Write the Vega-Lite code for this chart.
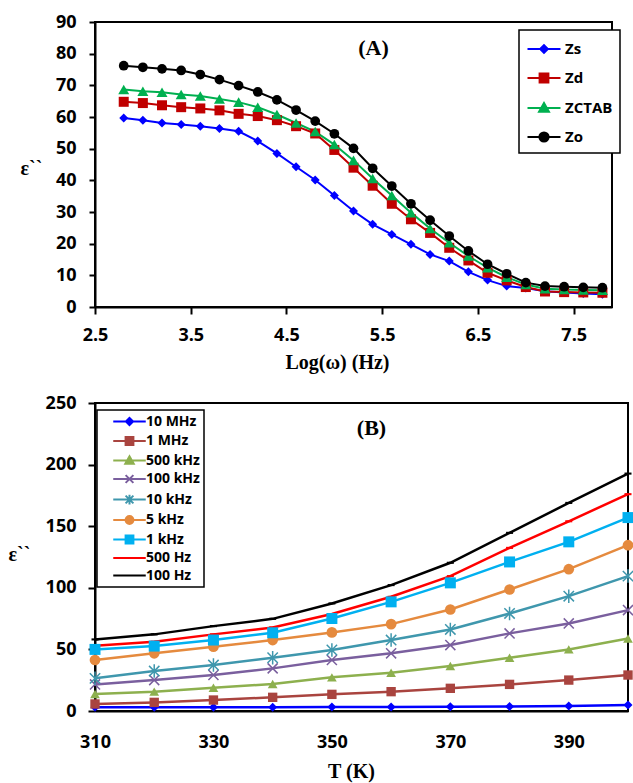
{
  "$schema": "https://vega.github.io/schema/vega-lite/v6.json",
  "background": "white",
  "padding": {"left": 7, "top": 12, "right": 4, "bottom": 2},
  "spacing": 20,
  "config": {
    "view": {"stroke": "black", "strokeWidth": 2},
    "axis": {
      "grid": false,
      "labelFlush": false,
      "labelFont": "Open Sans",
      "labelFontWeight": "bold",
      "labelFontSize": 18,
      "labelColor": "black",
      "domainColor": "black",
      "domainWidth": 2,
      "tickColor": "black",
      "tickWidth": 2,
      "titleFont": "Liberation Serif",
      "titleFontWeight": "bold",
      "titleFontSize": 20,
      "titleColor": "black"
    },
    "title": {"font": "Liberation Serif", "fontWeight": "bold", "fontSize": 22, "color": "black"}
  },
  "datasets": {
    "freq": [
      {"logw": 2.8, "sample": "Zs", "eps": 59.7}, {"logw": 3.0, "sample": "Zs", "eps": 59.0}, {"logw": 3.2, "sample": "Zs", "eps": 58.1}, {"logw": 3.4, "sample": "Zs", "eps": 57.6}, {"logw": 3.6, "sample": "Zs", "eps": 57.1}, {"logw": 3.8, "sample": "Zs", "eps": 56.4}, {"logw": 4.0, "sample": "Zs", "eps": 55.5}, {"logw": 4.2, "sample": "Zs", "eps": 52.4}, {"logw": 4.4, "sample": "Zs", "eps": 48.5}, {"logw": 4.6, "sample": "Zs", "eps": 44.3}, {"logw": 4.8, "sample": "Zs", "eps": 40.1}, {"logw": 5.0, "sample": "Zs", "eps": 35.2}, {"logw": 5.2, "sample": "Zs", "eps": 30.3}, {"logw": 5.4, "sample": "Zs", "eps": 26.1}, {"logw": 5.6, "sample": "Zs", "eps": 22.9}, {"logw": 5.8, "sample": "Zs", "eps": 19.8}, {"logw": 6.0, "sample": "Zs", "eps": 16.6}, {"logw": 6.2, "sample": "Zs", "eps": 14.5}, {"logw": 6.4, "sample": "Zs", "eps": 11.1}, {"logw": 6.6, "sample": "Zs", "eps": 8.5}, {"logw": 6.8, "sample": "Zs", "eps": 6.6}, {"logw": 7.0, "sample": "Zs", "eps": 6.0}, {"logw": 7.2, "sample": "Zs", "eps": 5.0}, {"logw": 7.4, "sample": "Zs", "eps": 4.6}, {"logw": 7.6, "sample": "Zs", "eps": 4.3}, {"logw": 7.8, "sample": "Zs", "eps": 4.0},
      {"logw": 2.8, "sample": "Zd", "eps": 64.8}, {"logw": 3.0, "sample": "Zd", "eps": 64.4}, {"logw": 3.2, "sample": "Zd", "eps": 63.7}, {"logw": 3.4, "sample": "Zd", "eps": 63.1}, {"logw": 3.6, "sample": "Zd", "eps": 62.7}, {"logw": 3.8, "sample": "Zd", "eps": 62.1}, {"logw": 4.0, "sample": "Zd", "eps": 61.0}, {"logw": 4.2, "sample": "Zd", "eps": 60.3}, {"logw": 4.4, "sample": "Zd", "eps": 59.0}, {"logw": 4.6, "sample": "Zd", "eps": 57.1}, {"logw": 4.8, "sample": "Zd", "eps": 54.8}, {"logw": 5.0, "sample": "Zd", "eps": 49.6}, {"logw": 5.2, "sample": "Zd", "eps": 44.0}, {"logw": 5.4, "sample": "Zd", "eps": 38.3}, {"logw": 5.6, "sample": "Zd", "eps": 32.6}, {"logw": 5.8, "sample": "Zd", "eps": 27.7}, {"logw": 6.0, "sample": "Zd", "eps": 23.4}, {"logw": 6.2, "sample": "Zd", "eps": 18.7}, {"logw": 6.4, "sample": "Zd", "eps": 14.7}, {"logw": 6.6, "sample": "Zd", "eps": 10.8}, {"logw": 6.8, "sample": "Zd", "eps": 8.4}, {"logw": 7.0, "sample": "Zd", "eps": 6.3}, {"logw": 7.2, "sample": "Zd", "eps": 4.9}, {"logw": 7.4, "sample": "Zd", "eps": 4.7}, {"logw": 7.6, "sample": "Zd", "eps": 4.6}, {"logw": 7.8, "sample": "Zd", "eps": 4.5},
      {"logw": 2.8, "sample": "ZCTAB", "eps": 68.7}, {"logw": 3.0, "sample": "ZCTAB", "eps": 68.1}, {"logw": 3.2, "sample": "ZCTAB", "eps": 67.8}, {"logw": 3.4, "sample": "ZCTAB", "eps": 67.1}, {"logw": 3.6, "sample": "ZCTAB", "eps": 66.6}, {"logw": 3.8, "sample": "ZCTAB", "eps": 65.7}, {"logw": 4.0, "sample": "ZCTAB", "eps": 64.7}, {"logw": 4.2, "sample": "ZCTAB", "eps": 63.1}, {"logw": 4.4, "sample": "ZCTAB", "eps": 60.8}, {"logw": 4.6, "sample": "ZCTAB", "eps": 58.1}, {"logw": 4.8, "sample": "ZCTAB", "eps": 55.4}, {"logw": 5.0, "sample": "ZCTAB", "eps": 51.3}, {"logw": 5.2, "sample": "ZCTAB", "eps": 46.3}, {"logw": 5.4, "sample": "ZCTAB", "eps": 40.6}, {"logw": 5.6, "sample": "ZCTAB", "eps": 35.2}, {"logw": 5.8, "sample": "ZCTAB", "eps": 29.8}, {"logw": 6.0, "sample": "ZCTAB", "eps": 24.8}, {"logw": 6.2, "sample": "ZCTAB", "eps": 20.3}, {"logw": 6.4, "sample": "ZCTAB", "eps": 16.1}, {"logw": 6.6, "sample": "ZCTAB", "eps": 12.4}, {"logw": 6.8, "sample": "ZCTAB", "eps": 9.4}, {"logw": 7.0, "sample": "ZCTAB", "eps": 7.1}, {"logw": 7.2, "sample": "ZCTAB", "eps": 5.8}, {"logw": 7.4, "sample": "ZCTAB", "eps": 5.5}, {"logw": 7.6, "sample": "ZCTAB", "eps": 5.4}, {"logw": 7.8, "sample": "ZCTAB", "eps": 5.3},
      {"logw": 2.8, "sample": "Zo", "eps": 76.2}, {"logw": 3.0, "sample": "Zo", "eps": 75.7}, {"logw": 3.2, "sample": "Zo", "eps": 75.2}, {"logw": 3.4, "sample": "Zo", "eps": 74.7}, {"logw": 3.6, "sample": "Zo", "eps": 73.4}, {"logw": 3.8, "sample": "Zo", "eps": 71.8}, {"logw": 4.0, "sample": "Zo", "eps": 69.9}, {"logw": 4.2, "sample": "Zo", "eps": 67.9}, {"logw": 4.4, "sample": "Zo", "eps": 65.4}, {"logw": 4.6, "sample": "Zo", "eps": 62.2}, {"logw": 4.8, "sample": "Zo", "eps": 58.7}, {"logw": 5.0, "sample": "Zo", "eps": 54.7}, {"logw": 5.2, "sample": "Zo", "eps": 50.1}, {"logw": 5.4, "sample": "Zo", "eps": 43.8}, {"logw": 5.6, "sample": "Zo", "eps": 38.2}, {"logw": 5.8, "sample": "Zo", "eps": 32.6}, {"logw": 6.0, "sample": "Zo", "eps": 27.4}, {"logw": 6.2, "sample": "Zo", "eps": 22.4}, {"logw": 6.4, "sample": "Zo", "eps": 17.7}, {"logw": 6.6, "sample": "Zo", "eps": 13.5}, {"logw": 6.8, "sample": "Zo", "eps": 10.5}, {"logw": 7.0, "sample": "Zo", "eps": 7.7}, {"logw": 7.2, "sample": "Zo", "eps": 6.6}, {"logw": 7.4, "sample": "Zo", "eps": 6.4}, {"logw": 7.6, "sample": "Zo", "eps": 6.2}, {"logw": 7.8, "sample": "Zo", "eps": 6.1}
    ],
    "temp": [
      {"T": 310, "f": "10 MHz", "e": 3.0}, {"T": 320, "f": "10 MHz", "e": 3.0}, {"T": 330, "f": "10 MHz", "e": 3.0}, {"T": 340, "f": "10 MHz", "e": 3.0}, {"T": 350, "f": "10 MHz", "e": 3.2}, {"T": 360, "f": "10 MHz", "e": 3.3}, {"T": 370, "f": "10 MHz", "e": 3.5}, {"T": 380, "f": "10 MHz", "e": 3.7}, {"T": 390, "f": "10 MHz", "e": 4.0}, {"T": 400, "f": "10 MHz", "e": 4.8},
      {"T": 310, "f": "1 MHz", "e": 5.7}, {"T": 320, "f": "1 MHz", "e": 7.0}, {"T": 330, "f": "1 MHz", "e": 8.9}, {"T": 340, "f": "1 MHz", "e": 11.1}, {"T": 350, "f": "1 MHz", "e": 13.5}, {"T": 360, "f": "1 MHz", "e": 15.7}, {"T": 370, "f": "1 MHz", "e": 18.4}, {"T": 380, "f": "1 MHz", "e": 21.6}, {"T": 390, "f": "1 MHz", "e": 25.1}, {"T": 400, "f": "1 MHz", "e": 29.2},
      {"T": 310, "f": "500 kHz", "e": 13.8}, {"T": 320, "f": "500 kHz", "e": 15.7}, {"T": 330, "f": "500 kHz", "e": 18.9}, {"T": 340, "f": "500 kHz", "e": 21.9}, {"T": 350, "f": "500 kHz", "e": 27.3}, {"T": 360, "f": "500 kHz", "e": 31.1}, {"T": 370, "f": "500 kHz", "e": 36.5}, {"T": 380, "f": "500 kHz", "e": 43.2}, {"T": 390, "f": "500 kHz", "e": 50.0}, {"T": 400, "f": "500 kHz", "e": 58.9},
      {"T": 310, "f": "100 kHz", "e": 21.6}, {"T": 320, "f": "100 kHz", "e": 25.1}, {"T": 330, "f": "100 kHz", "e": 29.2}, {"T": 340, "f": "100 kHz", "e": 34.6}, {"T": 350, "f": "100 kHz", "e": 41.4}, {"T": 360, "f": "100 kHz", "e": 46.8}, {"T": 370, "f": "100 kHz", "e": 53.5}, {"T": 380, "f": "100 kHz", "e": 63.0}, {"T": 390, "f": "100 kHz", "e": 71.1}, {"T": 400, "f": "100 kHz", "e": 81.9},
      {"T": 310, "f": "10 kHz", "e": 26.5}, {"T": 320, "f": "10 kHz", "e": 32.4}, {"T": 330, "f": "10 kHz", "e": 37.3}, {"T": 340, "f": "10 kHz", "e": 43.2}, {"T": 350, "f": "10 kHz", "e": 49.5}, {"T": 360, "f": "10 kHz", "e": 57.6}, {"T": 370, "f": "10 kHz", "e": 66.2}, {"T": 380, "f": "10 kHz", "e": 79.2}, {"T": 390, "f": "10 kHz", "e": 93.2}, {"T": 400, "f": "10 kHz", "e": 109.5},
      {"T": 310, "f": "5 kHz", "e": 41.4}, {"T": 320, "f": "5 kHz", "e": 46.8}, {"T": 330, "f": "5 kHz", "e": 52.2}, {"T": 340, "f": "5 kHz", "e": 57.6}, {"T": 350, "f": "5 kHz", "e": 63.8}, {"T": 360, "f": "5 kHz", "e": 70.5}, {"T": 370, "f": "5 kHz", "e": 82.4}, {"T": 380, "f": "5 kHz", "e": 98.6}, {"T": 390, "f": "5 kHz", "e": 115.1}, {"T": 400, "f": "5 kHz", "e": 134.6},
      {"T": 310, "f": "1 kHz", "e": 50.0}, {"T": 320, "f": "1 kHz", "e": 52.7}, {"T": 330, "f": "1 kHz", "e": 57.6}, {"T": 340, "f": "1 kHz", "e": 63.5}, {"T": 350, "f": "1 kHz", "e": 75.1}, {"T": 360, "f": "1 kHz", "e": 88.6}, {"T": 370, "f": "1 kHz", "e": 104.0}, {"T": 380, "f": "1 kHz", "e": 121.0}, {"T": 390, "f": "1 kHz", "e": 137.3}, {"T": 400, "f": "1 kHz", "e": 157.0},
      {"T": 310, "f": "500 Hz", "e": 53.0}, {"T": 320, "f": "500 Hz", "e": 56.2}, {"T": 330, "f": "500 Hz", "e": 62.2}, {"T": 340, "f": "500 Hz", "e": 67.8}, {"T": 350, "f": "500 Hz", "e": 78.7}, {"T": 360, "f": "500 Hz", "e": 92.7}, {"T": 370, "f": "500 Hz", "e": 109.5}, {"T": 380, "f": "500 Hz", "e": 132.4}, {"T": 390, "f": "500 Hz", "e": 154.0}, {"T": 400, "f": "500 Hz", "e": 176.0},
      {"T": 310, "f": "100 Hz", "e": 58.1}, {"T": 320, "f": "100 Hz", "e": 62.2}, {"T": 330, "f": "100 Hz", "e": 68.9}, {"T": 340, "f": "100 Hz", "e": 74.8}, {"T": 350, "f": "100 Hz", "e": 87.3}, {"T": 360, "f": "100 Hz", "e": 102.2}, {"T": 370, "f": "100 Hz", "e": 120.3}, {"T": 380, "f": "100 Hz", "e": 144.6}, {"T": 390, "f": "100 Hz", "e": 168.9}, {"T": 400, "f": "100 Hz", "e": 192.7}
    ]
  },
  "vconcat": [
    {
      "width": 517,
      "height": 285,
      "title": {"text": "(A)", "offset": -36, "dy": 28, "dx": 20, "baseline": "alphabetic"},
      "data": {"name": "freq"},
      "encoding": {
        "x": {
          "field": "logw", "type": "quantitative",
          "scale": {"domain": [2.5, 7.9], "nice": false, "zero": false},
          "axis": {"values": [2.5, 3.5, 4.5, 5.5, 6.5, 7.5], "format": ".1f", "tickSize": 7, "labelPadding": 12,
                   "title": "Log(ω) (Hz)", "titleX": 242, "titleY": 61, "titleBaseline": "alphabetic", "titleAlign": "center"}
        },
        "y": {
          "field": "eps", "type": "quantitative",
          "scale": {"domain": [0, 90], "nice": false},
          "axis": {"values": [0, 10, 20, 30, 40, 50, 60, 70, 80, 90], "tickSize": 6, "labelPadding": 13,
                   "title": "ε``", "titleAngle": 0, "titleX": -64, "titleY": 152, "titleBaseline": "alphabetic", "titleAlign": "center"}
        },
        "color": {
          "field": "sample", "type": "nominal",
          "scale": {"domain": ["Zs", "Zd", "ZCTAB", "Zo"], "range": ["#0000FF", "#C00000", "#00B050", "#000000"]},
          "legend": {
            "orient": "none", "legendX": 424, "legendY": 8, "title": null,
            "strokeColor": "black", "fillColor": "white", "padding": 7,
            "labelFont": "Open Sans", "labelFontWeight": "bold", "labelFontSize": 15, "labelColor": "black",
            "symbolSize": 484, "symbolOffset": 6, "labelOffset": 9, "rowPadding": 9,
            "symbolStrokeWidth": 2,
            "encode": {
              "legend": {"update": {"strokeWidth": {"value": 1.5}}},
              "symbols": {
                "update": {
                  "shape": {"signal": "({'Zs': 'M-1.5,0H1.5M-0.35,0L0,-0.35L0.35,0L0,0.35Z', 'Zd': 'M-1.5,0H1.5M-0.4,-0.4H0.4V0.4H-0.4Z', 'ZCTAB': 'M-1.5,0H1.5M-0.45,0.35L0,-0.45L0.45,0.35Z', 'Zo': 'M-1.5,0H1.5M-0.42,0A0.42,0.42 0 1,0 0.42,0A0.42,0.42 0 1,0 -0.42,0Z'})[datum.value]"},
                  "fill": {"signal": "({'Zs': '#0000FF', 'Zd': '#C00000', 'ZCTAB': '#00B050', 'Zo': '#000000'})[datum.value]"},
                  "stroke": {"signal": "({'Zs': '#0000FF', 'Zd': '#C00000', 'ZCTAB': '#00B050', 'Zo': '#000000'})[datum.value]"},
                  "strokeWidth": {"value": 2},
                  "strokeOpacity": {"value": 1},
                  "fillOpacity": {"value": 1},
                  "opacity": {"value": 1}
                }
              }
            }
          }
        }
      },
      "layer": [
        {"mark": {"type": "line", "strokeWidth": 2}},
        {
          "transform": [{"filter": "datum.sample === 'Zs'"}],
          "mark": {"type": "point", "filled": true, "opacity": 1, "shape": "diamond", "size": 81}
        },
        {
          "transform": [{"filter": "datum.sample === 'Zd'"}],
          "mark": {"type": "point", "filled": true, "opacity": 1, "shape": "square", "size": 100}
        },
        {
          "transform": [{"filter": "datum.sample === 'ZCTAB'"}],
          "mark": {"type": "point", "filled": true, "opacity": 1, "shape": "triangle-up", "size": 121}
        },
        {
          "transform": [{"filter": "datum.sample === 'Zo'"}],
          "mark": {"type": "point", "filled": true, "opacity": 1, "shape": "circle", "size": 95}
        }
      ]
    },
    {
      "width": 533,
      "height": 308,
      "title": {"text": "(B)", "offset": -35, "dy": 28, "dx": 10, "baseline": "alphabetic"},
      "data": {"name": "temp"},
      "encoding": {
        "x": {
          "field": "T", "type": "quantitative",
          "scale": {"domain": [310, 400], "nice": false, "zero": false},
          "axis": {"values": [310, 330, 350, 370, 390], "ticks": false, "tickSize": 0, "labelPadding": 22,
                   "title": "T (K)", "titleX": 256, "titleY": 66, "titleBaseline": "alphabetic", "titleAlign": "center"}
        },
        "y": {
          "field": "e", "type": "quantitative",
          "scale": {"domain": [0, 250], "nice": false},
          "axis": {"values": [0, 50, 100, 150, 200, 250], "tickSize": 7, "labelPadding": 12,
                   "title": "ε``", "titleAngle": 0, "titleX": -76, "titleY": 157, "titleBaseline": "alphabetic", "titleAlign": "center"}
        },
        "color": {
          "field": "f", "type": "nominal",
          "scale": {
            "domain": ["10 MHz", "1 MHz", "500 kHz", "100 kHz", "10 kHz", "5 kHz", "1 kHz", "500 Hz", "100 Hz"],
            "range": ["#0000FF", "#A9443F", "#8DB04E", "#7A5F9E", "#3F97AD", "#E58A3E", "#00B0F0", "#FF0000", "#000000"]
          },
          "legend": {
            "orient": "none", "legendX": 2, "legendY": 7, "title": null,
            "strokeColor": "black", "fillColor": "white", "padding": 4,
            "labelFont": "Open Sans", "labelFontWeight": "bold", "labelFontSize": 14, "labelColor": "black",
            "symbolSize": 169, "symbolOffset": 21, "labelOffset": 9, "rowPadding": 2.5,
            "encode": {
              "legend": {"update": {"strokeWidth": {"value": 1.5}}},
              "symbols": {
                "update": {
                  "shape": {"signal": "({'10 MHz': 'M-2.5,0H2.5M-0.55,0L0,-0.55L0.55,0L0,0.55Z', '1 MHz': 'M-2.5,0H2.5M-0.6,-0.6H0.6V0.6H-0.6Z', '500 kHz': 'M-2.5,0H2.5M-0.65,0.5L0,-0.65L0.65,0.5Z', '100 kHz': 'M-2.5,0H2.5M-0.6,-0.6L0.6,0.6M-0.6,0.6L0.6,-0.6', '10 kHz': 'M-2.5,0H2.5M-0.6,-0.6L0.6,0.6M-0.6,0.6L0.6,-0.6M0,-0.75V0.75', '5 kHz': 'M-2.5,0H2.5M-0.6,0A0.6,0.6 0 1,0 0.6,0A0.6,0.6 0 1,0 -0.6,0Z', '1 kHz': 'M-2.5,0H2.5M-0.6,-0.6H0.6V0.6H-0.6Z', '500 Hz': 'M-2.5,0H2.5', '100 Hz': 'M-2.5,0H2.5'})[datum.value]"},
                  "fill": {"signal": "({'10 MHz': '#0000FF', '1 MHz': '#A9443F', '500 kHz': '#8DB04E', '100 kHz': '#7A5F9E', '10 kHz': '#3F97AD', '5 kHz': '#E58A3E', '1 kHz': '#00B0F0', '500 Hz': '#FF0000', '100 Hz': '#000000'})[datum.value]"},
                  "stroke": {"signal": "({'10 MHz': '#0000FF', '1 MHz': '#A9443F', '500 kHz': '#8DB04E', '100 kHz': '#7A5F9E', '10 kHz': '#3F97AD', '5 kHz': '#E58A3E', '1 kHz': '#00B0F0', '500 Hz': '#FF0000', '100 Hz': '#000000'})[datum.value]"},
                  "strokeWidth": {"value": 2},
                  "strokeOpacity": {"value": 1},
                  "opacity": {"value": 1}
                }
              }
            }
          }
        }
      },
      "layer": [
        {"mark": {"type": "line", "strokeWidth": 2.5}},
        {
          "transform": [{"filter": "datum.f === '500 Hz' || datum.f === '100 Hz'"}],
          "mark": {"type": "point", "filled": true, "opacity": 1, "shape": "M-1,-0.3H1V0.3H-1Z", "size": 49}
        },
        {
          "transform": [{"filter": "indexof(['10 MHz', '1 MHz', '500 kHz', '5 kHz', '1 kHz'], datum.f) >= 0"}],
          "mark": {"type": "point", "filled": true, "opacity": 1},
          "encoding": {
            "shape": {"field": "f", "type": "nominal", "legend": null,
                      "scale": {"domain": ["10 MHz", "1 MHz", "500 kHz", "100 kHz", "10 kHz", "5 kHz", "1 kHz"],
                                "range": ["diamond", "square", "triangle-up", "M-1,-1L1,1M-1,1L1,-1", "M-1,-1L1,1M-1,1L1,-1M0,-1.3V1.3", "circle", "square"]}},
            "size": {"field": "f", "type": "nominal", "legend": null,
                     "scale": {"domain": ["10 MHz", "1 MHz", "500 kHz", "100 kHz", "10 kHz", "5 kHz", "1 kHz"],
                               "range": [81, 121, 100, 110, 110, 100, 81]}}
          }
        },
        {
          "transform": [{"filter": "datum.f === '100 kHz' || datum.f === '10 kHz'"}],
          "mark": {"type": "point", "filled": false, "opacity": 1, "strokeWidth": 1.5},
          "encoding": {
            "shape": {"field": "f", "type": "nominal", "legend": null},
            "size": {"field": "f", "type": "nominal", "legend": null}
          }
        }
      ]
    }
  ],
  "resolve": {
    "scale": {"color": "independent", "shape": "independent", "size": "independent", "x": "independent", "y": "independent"},
    "legend": {"color": "independent", "shape": "independent", "size": "independent"}
  }
}
